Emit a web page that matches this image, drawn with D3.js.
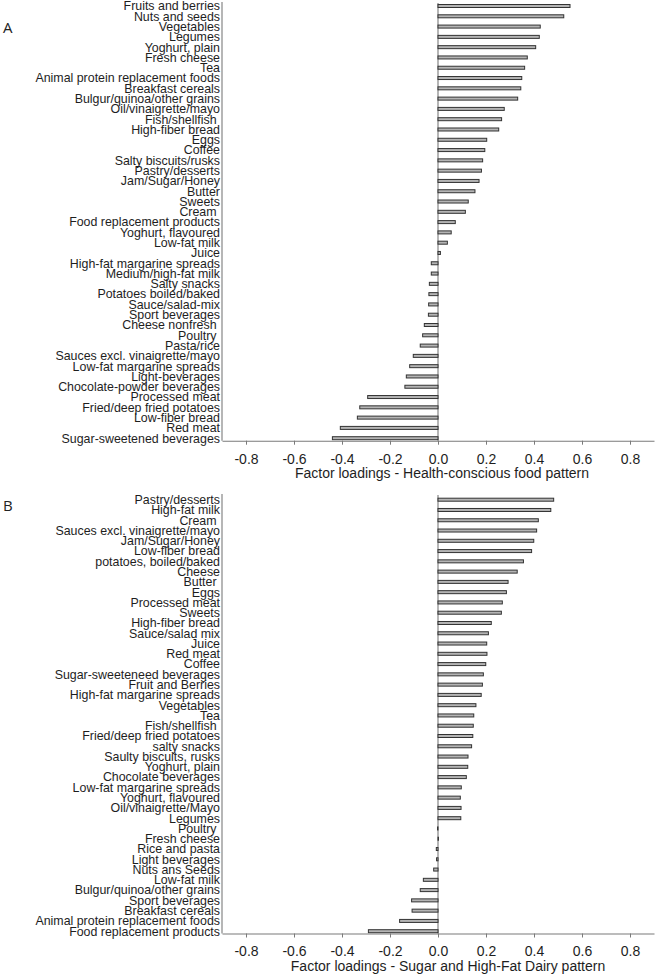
<!DOCTYPE html>
<html>
<head>
<meta charset="utf-8">
<script src="https://cdn.jsdelivr.net/npm/d3@7"></script>
<style>
  html, body { margin: 0; padding: 0; background: #fff; }
  svg text { white-space: pre; }
</style>
</head>
<body>
<svg id="chart" width="658" height="976"></svg>
<script>
// ---------- DATA ----------
const categoriesA = [
  "Fruits and berries", "Nuts and seeds", "Vegetables", "Legumes", "Yoghurt, plain",
  "Fresh cheese", "Tea", "Animal protein replacement foods", "Breakfast cereals",
  "Bulgur/quinoa/other grains", "Oil/vinaigrette/mayo", "Fish/shellfish ", "High-fiber bread",
  "Eggs", "Coffee", "Salty biscuits/rusks", "Pastry/desserts", "Jam/Sugar/Honey", "Butter",
  "Sweets", "Cream ", "Food replacement products", "Yoghurt, flavoured", "Low-fat milk",
  "Juice", "High-fat margarine spreads", "Medium/high-fat milk", "Salty snacks",
  "Potatoes boiled/baked", "Sauce/salad-mix", "Sport beverages", "Cheese nonfresh ",
  "Poultry ", "Pasta/rice", "Sauces excl. vinaigrette/mayo", "Low-fat margarine spreads",
  "Light-beverages", "Chocolate-powder beverages", "Processed meat",
  "Fried/deep fried potatoes", "Low-fiber bread", "Red meat", "Sugar-sweetened beverages"
];
const valuesA = [
  0.550, 0.524, 0.426, 0.422, 0.407,
  0.372, 0.361, 0.349, 0.345,
  0.332, 0.276, 0.265, 0.253,
  0.203, 0.195, 0.186, 0.181, 0.171, 0.154,
  0.126, 0.114, 0.072, 0.055, 0.039,
  0.010, -0.028, -0.028, -0.036,
  -0.038, -0.039, -0.040, -0.057,
  -0.064, -0.074, -0.103, -0.118,
  -0.132, -0.138, -0.293,
  -0.326, -0.336, -0.407, -0.440
];

const categoriesB = [
  "Pastry/desserts", "High-fat milk", "Cream ", "Sauces excl. vinaigrette/mayo",
  "Jam/Sugar/Honey", "Low-fiber bread", "potatoes, boiled/baked", "Cheese", "Butter ",
  "Eggs", "Processed meat", "Sweets", "High-fiber bread", "Sauce/salad mix", "Juice",
  "Red meat", "Coffee", "Sugar-sweeteneed beverages", "Fruit and Berries",
  "High-fat margarine spreads", "Vegetables", "Tea", "Fish/shellfish ",
  "Fried/deep fried potatoes", "salty snacks", "Saulty biscuits, rusks", "Yoghurt, plain",
  "Chocolate beverages", "Low-fat margarine spreads", "Yoghurt, flavoured",
  "Oil/vinaigrette/Mayo", "Legumes", "Poultry ", "Fresh cheese", "Rice and pasta",
  "Light beverages", "Nuts ans Seeds", "Low-fat milk", "Bulgur/quinoa/other grains",
  "Sport beverages", "Breakfast cereals", "Animal protein replacement foods",
  "Food replacement products"
];
const valuesB = [
  0.482, 0.470, 0.418, 0.411,
  0.399, 0.390, 0.356, 0.330, 0.292,
  0.285, 0.268, 0.264, 0.222, 0.210, 0.203,
  0.204, 0.199, 0.189, 0.185,
  0.180, 0.158, 0.149, 0.147,
  0.145, 0.140, 0.125, 0.124,
  0.118, 0.097, 0.093,
  0.096, 0.095, -0.002, 0.002, -0.007,
  -0.006, -0.018, -0.061, -0.074,
  -0.110, -0.108, -0.160,
  -0.290
];

const tickValues = [-0.8, -0.6, -0.4, -0.2, 0.0, 0.2, 0.4, 0.6, 0.8];
const tickLabels = ["-0.8", "-0.6", "-0.4", "-0.2", "0.0", "0.2", "0.4", "0.6", "0.8"];
const xDomain = [-0.9, 0.9];
const titleA = "Factor loadings - Health-conscious food pattern";
const titleB = "Factor loadings - Sugar and High-Fat Dairy pattern";

// ---------- DRAW ----------
const svg = d3.select("#chart");
const FONT = "'Liberation Sans', Arial, sans-serif";
const x = d3.scaleLinear().domain(xDomain).range([222, 654]);

function drawPanel(cats, vals, opt) {
  const g = svg.append("g");
  const y = d3.scalePoint().domain(cats).range([opt.yFirst, opt.yLast]);

  // category labels
  const yAxis = d3.axisLeft(y).tickSize(0).tickPadding(2);
  const ya = g.append("g").attr("transform", `translate(${x(xDomain[0])},0)`).call(yAxis);
  ya.select(".domain").remove();
  ya.selectAll("text")
    .attr("font-family", FONT).attr("font-size", 12.4).attr("fill", "#1e1e1e")
    .attr("dy", "0.31em");

  // left axis line
  g.append("line")
    .attr("x1", x(xDomain[0])).attr("x2", x(xDomain[0]))
    .attr("y1", opt.yTop).attr("y2", opt.yAxis)
    .attr("stroke", "#7a7a7a").attr("stroke-width", 1.1);

  // zero line
  g.append("line")
    .attr("x1", x(0)).attr("x2", x(0))
    .attr("y1", opt.yTop + 1).attr("y2", opt.yAxis)
    .attr("stroke", "#7a7a7a").attr("stroke-width", 1.1);

  // bars
  const bh = 3;
  g.selectAll("rect.bar").data(cats).join("rect")
    .attr("class", "bar")
    .attr("x", (d, i) => x(Math.min(0, vals[i])))
    .attr("width", (d, i) => Math.abs(x(vals[i]) - x(0)))
    .attr("y", d => y(d) - bh / 2)
    .attr("height", bh)
    .attr("fill", "#b4b4b4")
    .attr("stroke", "#333")
    .attr("stroke-width", 1);

  // x axis
  const xAxis = d3.axisBottom(x).tickValues(tickValues)
    .tickFormat((d, i) => tickLabels[i]).tickSize(4).tickSizeOuter(0).tickPadding(9);
  const xa = g.append("g").attr("transform", `translate(0,${opt.yAxis})`).call(xAxis);
  xa.select(".domain").attr("stroke", "#7a7a7a").attr("stroke-width", 1.1);
  xa.selectAll(".tick line").attr("stroke", "#7a7a7a");
  xa.selectAll("text").attr("font-family", FONT).attr("font-size", 14).attr("fill", "#1e1e1e");

  // title
  g.append("text")
    .attr("x", opt.titleX).attr("y", opt.yAxis + 37)
    .attr("text-anchor", "middle")
    .attr("font-family", FONT).attr("font-size", 14).attr("fill", "#1e1e1e")
    .text(opt.title);

  // panel letter
  g.append("text")
    .attr("x", 3).attr("y", opt.letterY)
    .attr("font-family", "'Open Sans', 'DejaVu Sans', sans-serif").attr("font-size", 15)
    .attr("fill", "#222")
    .text(opt.letter);
}

drawPanel(categoriesA, valuesA, {
  yFirst: 6, yLast: 438.2, yTop: 2, yAxis: 440.7,
  title: titleA, titleX: 442, letter: "A", letterY: 33
});
drawPanel(categoriesB, valuesB, {
  yFirst: 499.7, yLast: 931.2, yTop: 494, yAxis: 933.5,
  title: titleB, titleX: 448, letter: "B", letterY: 511
});
</script>
</body>
</html>
